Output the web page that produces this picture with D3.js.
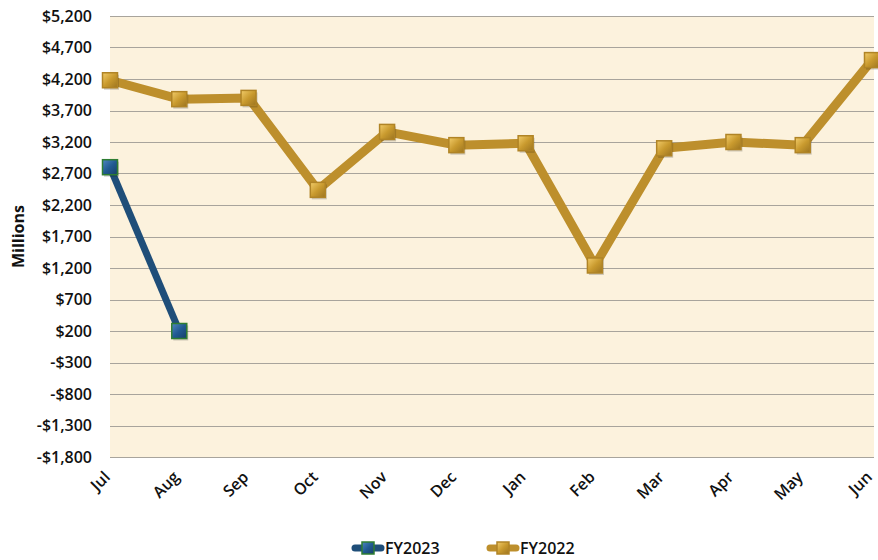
<!DOCTYPE html>
<html>
<head>
<meta charset="utf-8">
<script src="https://cdn.jsdelivr.net/npm/d3@7"></script>
<style>
  body { margin: 0; background: #fff; }
  svg { font-family: "Open Sans", sans-serif; }
</style>
</head>
<body>
<div id="chart"></div>
<script>
const months = ["Jul", "Aug", "Sep", "Oct", "Nov", "Dec", "Jan", "Feb", "Mar", "Apr", "May", "Jun"];
const fy2022 = [4180, 3880, 3900, 2440, 3360, 3150, 3180, 1240, 3100, 3200, 3150, 4500];
const fy2023 = [2800, 200];
const yTicks = [-1800, -1300, -800, -300, 200, 700, 1200, 1700, 2200, 2700, 3200, 3700, 4200, 4700, 5200];

const width = 878, height = 560;
const margin = { left: 110, right: 6, top: 16, bottom: 103 };

const svg = d3.select('#chart').append('svg')
    .attr('width', width)
    .attr('height', height);

const defs = svg.append('defs');

// bevel-ish gradients for the square markers
function markerGrad(id, light, mid, dark) {
    const g = defs.append('linearGradient').attr('id', id)
        .attr('x1', '0%').attr('y1', '0%').attr('x2', '100%').attr('y2', '100%');
    g.append('stop').attr('offset', '0%').attr('stop-color', light);
    g.append('stop').attr('offset', '50%').attr('stop-color', mid);
    g.append('stop').attr('offset', '100%').attr('stop-color', dark);
}
markerGrad('goldGrad', '#f2cc6a', '#c99a2e', '#9c7420');
markerGrad('blueGrad', '#4f86c0', '#215a92', '#163f68');

const x = d3.scalePoint()
    .domain(months)
    .range([margin.left, width - margin.right]);

const y = d3.scaleLinear()
    .domain([-1800, 5200])
    .range([height - margin.bottom, margin.top]);

// plot background
svg.append('rect')
    .attr('x', margin.left)
    .attr('y', margin.top)
    .attr('width', 874 - margin.left)
    .attr('height', y(-1800) - margin.top)
    .attr('fill', '#fcf2dd');

// gridlines
svg.append('g')
    .selectAll('line')
    .data(yTicks)
    .join('line')
    .attr('x1', margin.left)
    .attr('x2', 874)
    .attr('y1', d => Math.round(y(d)) + 0.5)
    .attr('y2', d => Math.round(y(d)) + 0.5)
    .attr('stroke', '#a8a49c')
    .attr('stroke-width', 1);

// y axis labels
const fmt = v => (v < 0 ? '-$' : '$') + d3.format(',')(Math.abs(v));
svg.append('g')
    .selectAll('text')
    .data(yTicks)
    .join('text')
    .attr('x', 92)
    .attr('y', d => y(d))
    .attr('dy', '0.36em')
    .attr('text-anchor', 'end')
    .attr('font-size', 16)
    .attr('font-weight', 600)
    .attr('fill', '#111')
    .text(fmt);

svg.append('text')
    .attr('transform', `translate(18,${(margin.top + y(-1800)) / 2}) rotate(-90)`)
    .attr('text-anchor', 'middle')
    .attr('dy', '0.36em')
    .attr('font-size', 16)
    .attr('font-weight', 700)
    .attr('fill', '#111')
    .text('Millions');

// x axis labels, rotated
svg.append('g')
    .selectAll('text')
    .data(months)
    .join('text')
    .attr('transform', d => `translate(${x(d) - 3},${y(-1800) + 17}) rotate(-45)`)
    .attr('text-anchor', 'end')
    .attr('dy', '0.36em')
    .attr('font-size', 16)
    .attr('font-weight', 600)
    .attr('fill', '#111')
    .text(d => d);

const line = d3.line()
    .x((d, i) => x(months[i]))
    .y(d => y(d));

function drawSeries(values, color, lw, grad, border) {
    const g = svg.append('g');
    g.append('path')
        .datum(values)
        .attr('d', line)
        .attr('fill', 'none')
        .attr('stroke', color)
        .attr('stroke-width', lw)
        .attr('stroke-linejoin', 'round');
    const s = 15;
    g.selectAll('rect.shadow')
        .data(values)
        .join('rect')
        .attr('class', 'shadow')
        .attr('x', (d, i) => x(months[i]) - s / 2 + 1.5)
        .attr('y', d => y(d) - s / 2 + 2)
        .attr('width', s)
        .attr('height', s)
        .attr('fill', 'rgba(0,0,0,0.18)');
    g.selectAll('rect.mk')
        .data(values)
        .join('rect')
        .attr('class', 'mk')
        .attr('x', (d, i) => x(months[i]) - s / 2)
        .attr('y', d => y(d) - s / 2)
        .attr('width', s)
        .attr('height', s)
        .attr('fill', `url(#${grad})`)
        .attr('stroke', border)
        .attr('stroke-width', 1.5);
}

drawSeries(fy2022, '#bd8f2c', 9, 'goldGrad', '#b08426');
drawSeries(fy2023, '#1f4e79', 7, 'blueGrad', '#2e7d32');

// legend
const legend = [
    { name: 'FY2023', color: '#1f4e79', grad: 'blueGrad', border: '#2e7d32', x: 352 },
    { name: 'FY2022', color: '#bd8f2c', grad: 'goldGrad', border: '#b08426', x: 487 }
];
const lg = svg.append('g').selectAll('g').data(legend).join('g')
    .attr('transform', d => `translate(${d.x},548)`);
lg.append('line')
    .attr('x1', 3).attr('x2', 29)
    .attr('stroke', d => d.color)
    .attr('stroke-width', 7)
    .attr('stroke-linecap', 'round');
lg.append('rect')
    .attr('x', 10).attr('y', -6)
    .attr('width', 12).attr('height', 12)
    .attr('fill', d => `url(#${d.grad})`)
    .attr('stroke', d => d.border)
    .attr('stroke-width', 1.5);
lg.append('text')
    .attr('x', 33)
    .attr('dy', '0.36em')
    .attr('font-size', 16)
    .attr('font-weight', 600)
    .attr('fill', '#111')
    .text(d => d.name);
</script>
</body>
</html>
